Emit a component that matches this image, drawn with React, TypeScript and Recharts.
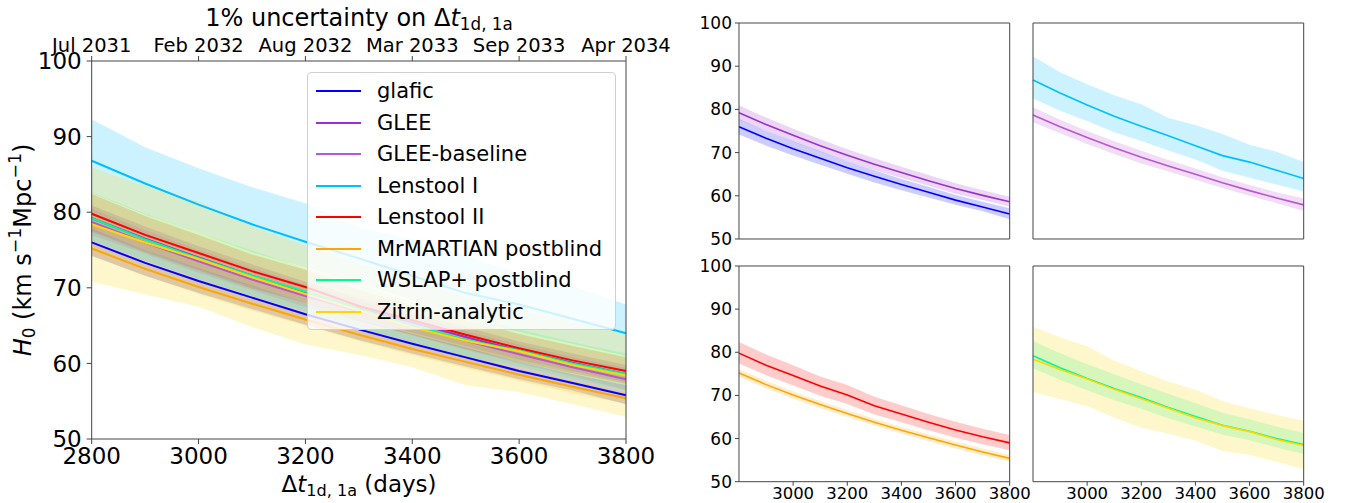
import React from "react";
import { ComposedChart, Area, Line, XAxis, YAxis, ReferenceLine } from "recharts";

const days = [2800, 2900, 3000, 3100, 3200, 3300, 3400, 3500, 3600, 3700, 3800];
const mainTicks = [2800, 3000, 3200, 3400, 3600, 3800];
const smallTicks = [3000, 3200, 3400, 3600, 3800];
const yTicks = [50, 60, 70, 80, 90, 100];
const topDates = ["Jul 2031", "Feb 2032", "Aug 2032", "Mar 2033", "Sep 2033", "Apr 2034"];

const glafic = [76.0, 73.3, 70.9, 68.7, 66.5, 64.5, 62.6, 60.8, 59.0, 57.4, 55.8];
const glaficLo = [74.2, 71.6, 69.3, 67.2, 65.1, 63.1, 61.3, 59.6, 57.9, 56.4, 54.6];
const glaficHi = [77.8, 75.0, 72.6, 70.3, 68.0, 65.9, 63.9, 62.1, 60.2, 58.6, 57.1];

const glee = [79.2, 76.5, 74.0, 71.6, 69.4, 67.3, 65.4, 63.5, 61.7, 60.1, 58.6];
const gleeLo = [77.6, 75.0, 72.5, 70.2, 68.0, 66.0, 64.1, 62.3, 60.5, 59.0, 57.5];
const gleeHi = [80.9, 78.1, 75.5, 73.1, 70.8, 68.7, 66.7, 64.8, 62.9, 61.3, 59.8];

const gleeBase = [78.7, 76.0, 73.5, 71.1, 68.9, 66.9, 65.0, 63.0, 61.2, 59.5, 57.9];
const gleeBaseLo = [77.0, 74.5, 72.0, 69.7, 67.5, 65.6, 63.7, 61.8, 60.0, 58.3, 56.5];
const gleeBaseHi = [80.5, 77.6, 75.0, 72.6, 70.4, 68.3, 66.3, 64.3, 62.5, 60.8, 59.4];

const lens1 = [86.8, 83.8, 81.0, 78.4, 76.1, 73.9, 71.6, 69.3, 67.8, 65.9, 64.0];
const lens1Lo = [82.5, 79.7, 77.3, 74.7, 72.7, 70.5, 68.4, 65.8, 64.2, 62.6, 61.0];
const lens1Hi = [92.3, 88.6, 85.8, 83.3, 81.2, 78.0, 76.4, 74.3, 71.8, 70.2, 67.8];

const lens2 = [79.8, 77.0, 74.6, 72.2, 70.1, 67.6, 65.7, 63.8, 62.0, 60.4, 59.0];
const lens2Lo = [77.4, 74.7, 72.3, 69.9, 68.0, 65.6, 63.8, 61.9, 60.2, 58.7, 57.3];
const lens2Hi = [82.4, 79.5, 77.0, 74.4, 72.4, 69.7, 67.7, 65.7, 63.9, 62.3, 60.8];

const mrm = [75.2, 72.5, 70.1, 67.9, 65.8, 63.8, 61.9, 60.2, 58.5, 56.9, 55.4];
const mrmLo = [74.3, 71.6, 69.2, 67.0, 65.0, 63.0, 61.1, 59.4, 57.7, 56.1, 54.7];
const mrmHi = [76.1, 73.4, 70.9, 68.7, 66.6, 64.6, 62.7, 61.0, 59.3, 57.7, 56.2];

const wslap = [79.2, 76.4, 73.9, 71.6, 69.5, 67.2, 65.1, 63.1, 61.7, 60.0, 58.6];
const wslapLo = [76.3, 73.6, 71.2, 68.9, 66.9, 64.7, 62.8, 60.9, 59.6, 57.9, 56.4];
const wslapHi = [82.6, 79.8, 77.3, 74.9, 72.6, 70.4, 68.2, 66.0, 64.5, 62.8, 61.3];

const zitrin = [78.4, 76.0, 73.8, 71.4, 69.2, 67.0, 64.8, 63.0, 61.6, 59.8, 58.4];
const zitrinLo = [70.8, 69.1, 67.5, 64.8, 62.5, 61.1, 59.5, 57.1, 56.2, 54.6, 52.9];
const zitrinHi = [85.9, 83.5, 81.4, 78.1, 75.6, 73.2, 71.3, 68.7, 67.0, 65.5, 64.1];

const series = [
  { key: "glafic", name: "glafic", color: "#0000ff", mid: glafic, lo: glaficLo, hi: glaficHi },
  { key: "glee", name: "GLEE", color: "#9932cc", mid: glee, lo: gleeLo, hi: gleeHi },
  { key: "gleeBase", name: "GLEE-baseline", color: "#ba55d3", mid: gleeBase, lo: gleeBaseLo, hi: gleeBaseHi },
  { key: "lens1", name: "Lenstool I", color: "#00bfff", mid: lens1, lo: lens1Lo, hi: lens1Hi },
  { key: "lens2", name: "Lenstool II", color: "#ff0000", mid: lens2, lo: lens2Lo, hi: lens2Hi },
  { key: "mrm", name: "MrMARTIAN postblind", color: "#ffa500", mid: mrm, lo: mrmLo, hi: mrmHi },
  { key: "wslap", name: "WSLAP+ postblind", color: "#00fa9a", mid: wslap, lo: wslapLo, hi: wslapHi },
  { key: "zitrin", name: "Zitrin-analytic", color: "#ffd700", mid: zitrin, lo: zitrinLo, hi: zitrinHi },
];

const rows = days.map((day, i) => {
  const r: any = { day };
  series.forEach((s) => {
    r[s.key] = s.mid[i];
    r[s.key + "Band"] = [s.lo[i], s.hi[i]];
  });
  return r;
});

const FONT = "'DejaVu Sans', sans-serif";
const AXIS = "#444";

function drawSeries(list: typeof series, width: number) {
  const out: any[] = [];
  list.forEach((s) => {
    out.push(
      <Area
        key={s.key + "-band"}
        type="linear"
        dataKey={s.key + "Band"}
        stroke="none"
        fill={s.color}
        fillOpacity={0.2}
        isAnimationActive={false}
      />
    );
  });
  list.forEach((s) => {
    out.push(
      <Line
        key={s.key + "-line"}
        type="linear"
        dataKey={s.key}
        stroke={s.color}
        strokeWidth={width}
        dot={false}
        isAnimationActive={false}
      />
    );
  });
  return out;
}

function Panel({ x, y, w, h, keys, yLabels, xLabels }: any) {
  const list = series.filter((s) => keys.includes(s.key));
  return (
    <div style={{ position: "absolute", left: x - 50, top: y - 10 }}>
      <ComposedChart
        width={w + 80}
        height={h + 40}
        data={rows}
        margin={{ top: 10, right: 30, left: 5, bottom: 5 }}
      >
        <XAxis
          dataKey="day"
          type="number"
          domain={[2800, 3800]}
          ticks={smallTicks}
          height={25}
          stroke={AXIS}
          tickSize={4}
          tickMargin={2}
          tick={xLabels ? { fill: "#000", fontSize: 16.5, fontFamily: FONT } : false}
        />
        <YAxis
          type="number"
          domain={[50, 100]}
          ticks={yTicks}
          width={45}
          stroke={AXIS}
          tickSize={4}
          tickMargin={3}
          tick={yLabels ? { fill: "#000", fontSize: 17, fontFamily: FONT } : false}
        />
        {drawSeries(list, 1.6)}
        <ReferenceLine x={3800} stroke={AXIS} />
        <ReferenceLine y={100} stroke={AXIS} />
      </ComposedChart>
    </div>
  );
}

function MainChart() {
  return (
    <div style={{ position: "absolute", left: 0, top: 0 }}>
      <ComposedChart
        width={680}
        height={503}
        data={rows}
        margin={{ top: 31, right: 54, left: 31.7, bottom: 34 }}
      >
        <XAxis
          dataKey="day"
          type="number"
          domain={[2800, 3800]}
          ticks={mainTicks}
          height={30}
          stroke={AXIS}
          tickSize={5}
          tickMargin={4}
          tick={{ fill: "#000", fontSize: 23, fontFamily: FONT }}
        />
        <XAxis
          xAxisId="top"
          orientation="top"
          dataKey="day"
          type="number"
          domain={[2800, 3800]}
          ticks={mainTicks}
          height={30}
          stroke={AXIS}
          tickSize={5}
          tickMargin={4}
          tickFormatter={(v: number) => topDates[mainTicks.indexOf(v)]}
          tick={{ fill: "#000", fontSize: 19.5, fontFamily: FONT }}
        />
        <YAxis
          type="number"
          domain={[50, 100]}
          ticks={yTicks}
          width={60}
          stroke={AXIS}
          tickSize={5}
          tickMargin={5}
          tick={{ fill: "#000", fontSize: 23, fontFamily: FONT }}
        />
        {drawSeries(series, 2)}
        <ReferenceLine x={3800} stroke={AXIS} />
      </ComposedChart>
    </div>
  );
}

function LegendBox() {
  return (
    <div
      style={{
        position: "absolute",
        left: 307,
        top: 72,
        width: 309,
        height: 258,
        boxSizing: "border-box",
        border: "1px solid #d0d0d0",
        borderRadius: 4,
        background: "rgba(255,255,255,0.8)",
        fontFamily: FONT,
        fontSize: 21,
      }}
    >
      {series.map((s, i) => (
        <div
          key={s.key}
          style={{ position: "absolute", left: 0, top: 4 + i * 31.5, height: 28, display: "flex", alignItems: "center" }}
        >
          <div style={{ marginLeft: 8, width: 45, height: 2, background: s.color }} />
          <span style={{ marginLeft: 16, whiteSpace: "nowrap" }}>{s.name}</span>
        </div>
      ))}
    </div>
  );
}

const subStyle: any = { fontSize: "0.7em", verticalAlign: "-0.25em" };
const supStyle: any = { fontSize: "0.72em", verticalAlign: "0.55em" };

export default function App() {
  return (
    <div
      style={{
        position: "absolute",
        left: 0,
        top: 0,
        width: 1359,
        height: 503,
        background: "#fff",
        fontFamily: FONT,
        overflow: "hidden",
      }}
    >
      <MainChart />
      <LegendBox />
      <div style={{ position: "absolute", left: 109, top: 3, width: 500, textAlign: "center", fontSize: 24, lineHeight: "30px" }}>
        1% uncertainty on Δ<i>t</i>
        <span style={subStyle}>1d, 1a</span>
      </div>
      <div style={{ position: "absolute", left: 159, top: 469, width: 400, textAlign: "center", fontSize: 23, lineHeight: "30px" }}>
        Δ<i>t</i>
        <span style={subStyle}>1d, 1a</span> (days)
      </div>
      <div
        style={{
          position: "absolute",
          left: 22,
          top: 250,
          width: 400,
          textAlign: "center",
          fontSize: 24,
          lineHeight: "30px",
          transform: "translate(-50%, -50%) rotate(-90deg)",
          whiteSpace: "nowrap",
        }}
      >
        <i>H</i>
        <span style={subStyle}>0</span> (km s<span style={supStyle}>−1</span>Mpc<span style={supStyle}>−1</span>)
      </div>
      <Panel x={739.3} y={23.3} w={270.7} h={216} keys={["glafic", "glee"]} yLabels xLabels={false} />
      <Panel x={1033.3} y={23.3} w={270.7} h={216} keys={["lens1", "gleeBase"]} yLabels={false} xLabels={false} />
      <Panel x={739.3} y={266} w={270.7} h={215.7} keys={["lens2", "mrm"]} yLabels xLabels />
      <Panel x={1033.3} y={266} w={270.7} h={215.7} keys={["wslap", "zitrin"]} yLabels={false} xLabels />
    </div>
  );
}
